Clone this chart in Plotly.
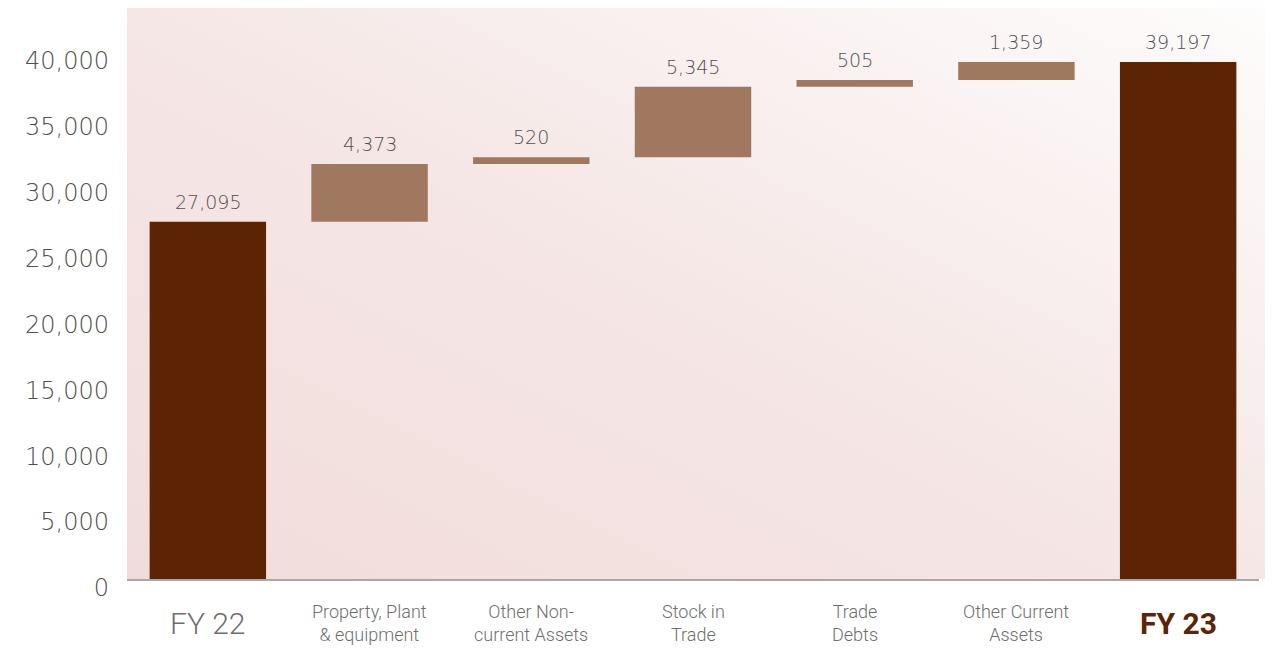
import base64
import plotly.graph_objects as go

categories = ["FY 22", "Property, Plant & equipment", "Other Non-current Assets",
              "Stock in Trade", "Trade Debts", "Other Current Assets", "FY 23"]
category_labels = ["FY 22", "Property, Plant<br>& equipment", "Other Non-<br>current Assets",
                   "Stock in<br>Trade", "Trade<br>Debts", "Other Current<br>Assets", "<b>FY 23</b>"]
values = [27095, 4373, 520, 5345, 505, 1359, 39197]
measures = ["absolute", "relative", "relative", "relative", "relative", "relative", "total"]
value_labels = ["27,095", "4,373", "520", "5,345", "505", "1,359", "39,197"]
y_ticks = [0, 5000, 10000, 15000, 20000, 25000, 30000, 35000, 40000]

FONT = "Roboto"
NUMFONT = "DejaVu Sans"
DARK = "#5C2305"
LIGHT = "#A0785F"
GREY = "#6E6E6E"
NUMGREY = "#505050"

# running tops of each bar (derived from the data)
tops = []
run = 0
for v, m in zip(values, measures):
    if m == "absolute":
        run = v
    elif m == "relative":
        run += v
    tops.append(run)

svg = """<svg xmlns='http://www.w3.org/2000/svg' width='1146' height='572' viewBox='0 0 1146 572' preserveAspectRatio='none'>
<defs><linearGradient id='g' x1='0' y1='1' x2='1' y2='0'>
<stop offset='0' stop-color='#F1DCDB'/><stop offset='0.5' stop-color='#F5E7E6'/><stop offset='1' stop-color='#FEFCFC'/>
</linearGradient></defs><rect width='1146' height='572' fill='url(#g)'/></svg>"""
img_src = "data:image/svg+xml;base64," + base64.b64encode(svg.encode()).decode()

fig = go.Figure(go.Waterfall(
    x=categories,
    y=values,
    measure=measures,
    increasing=dict(marker=dict(color=LIGHT)),
    decreasing=dict(marker=dict(color=LIGHT)),
    totals=dict(marker=dict(color=DARK)),
    connector=dict(visible=False),
    hoverinfo="skip",
))

annotations = []
for c, t, lab in zip(categories, tops, value_labels):
    annotations.append(dict(x=c, y=t, text=lab, showarrow=False, yanchor="middle",
                            yshift=20, font=dict(family=NUMFONT, size=19, color=NUMGREY, weight=200)))
for i, (c, lab) in enumerate(zip(categories, category_labels)):
    if i == 0:
        f = dict(family=FONT, size=30, color=GREY, weight=300)
    elif i == len(categories) - 1:
        f = dict(family=FONT, size=30, color=DARK)
    else:
        f = dict(family=FONT, size=18, color=GREY, weight=300)
    annotations.append(dict(x=c, xref="x", y=0, yref="paper", text=lab, showarrow=False,
                            yanchor="middle", yshift=-44, font=f))

plot_w = 1273 - 119 - 22
fig.update_layout(
    width=1273, height=648,
    margin=dict(l=119, r=22, t=0, b=77),
    paper_bgcolor="white",
    plot_bgcolor="rgba(0,0,0,0)",
    waterfallgap=0.28,
    showlegend=False,
    font=dict(family=FONT, color=GREY),
    annotations=annotations,
    images=[dict(source=img_src, xref="paper", yref="paper", x=0, y=1,
                 sizex=1146 / plot_w, sizey=1, sizing="stretch", layer="below",
                 xanchor="left", yanchor="top")],
)
fig.update_xaxes(
    showticklabels=False,
    showline=True, linecolor="#A8A8A8", linewidth=2,
    showgrid=False, ticks="",
)
fig.update_yaxes(
    range=[0, 43300], tickvals=y_ticks, tickformat=",d",
    tickfont=dict(family=NUMFONT, size=24, color=NUMGREY, weight=200),
    showgrid=False, zeroline=False, showline=False, ticks="",
    ticklabelstandoff=17, ticklabelshift=9,
)

fig.write_html("out.html")
